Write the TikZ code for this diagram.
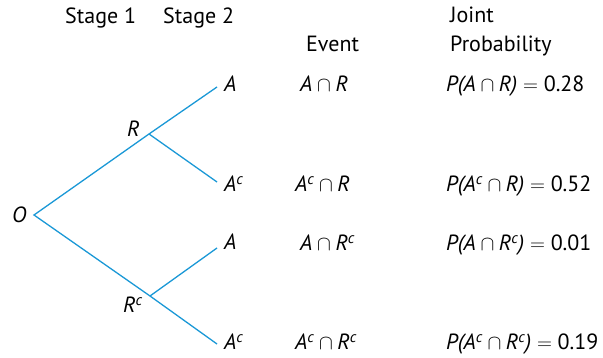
\documentclass[tikz,border=0pt]{standalone}
\usepackage{fontspec}
\setmainfont{PT Sans}
\definecolor{treeblue}{RGB}{26,152,214}
\newcommand{\cc}{\textsuperscript{c}}
\newcommand{\capp}{\ensuremath{{}\cap{}}}
\newcommand{\eqq}{\ensuremath{{}={}}}
\begin{document}
\begin{tikzpicture}[x=1pt,y=-1pt,
  branch/.style={draw=treeblue, line width=1.3pt},
  lbl/.style={anchor=base west, inner sep=0pt, font=\fontsize{22}{26}\selectfont},
  ilbl/.style={lbl, font=\fontsize{22}{26}\selectfont\itshape}]
\useasboundingbox (0,0) rectangle (603,358);
% tree points
\coordinate (O) at (34,215);
\coordinate (R) at (149,134);
\coordinate (Rc) at (150,296);
\coordinate (A1) at (217,87);
\coordinate (A2) at (217,182);
\coordinate (A3) at (217,248);
\coordinate (A4) at (217,344);
\draw[branch] (A1) -- (R) -- (O) -- (Rc) -- (A4);
\draw[branch] (R) -- (A2);
\draw[branch] (Rc) -- (A3);
% headings
\node[lbl] (s1) at (65,24) {Stage 1};
\node[lbl] (s2) at (163,24) {Stage 2};
\node[lbl] (ev) at (306,52) {Event};
\node[lbl] (jt) at (450,23) {Joint};
\node[lbl] (pr) at (450,52) {Probability};
% tree labels
\node[ilbl] (lO) at (12,223) {O};
\node[ilbl] (lR) at (127,137) {R};
\node[ilbl] (lRc) at (123,313) {R\cc};
\node[ilbl] (lA1) at (224,92) {A};
\node[ilbl] (lA2) at (224,192) {A\cc};
\node[ilbl] (lA3) at (224,250) {A};
\node[ilbl] (lA4) at (224,350) {A\cc};
% events
\node[ilbl] (e1) at (300,92) {A\capp R};
\node[ilbl] (e2) at (295,192) {A\cc\capp R};
\node[ilbl] (e3) at (300,251) {A\capp R\cc};
\node[ilbl] (e4) at (295,350) {A\cc\capp R\cc};
% probabilities
\node[ilbl] (p1) at (446,92) {P(A\capp R)\upshape\eqq 0.28};
\node[ilbl] (p2) at (446,192) {P(A\cc\capp R)\upshape\eqq 0.52};
\node[ilbl] (p3) at (446,251) {P(A\capp R\cc)\upshape\eqq 0.01};
\node[ilbl] (p4) at (446,350) {P(A\cc\capp R\cc)\upshape\eqq 0.19};
\end{tikzpicture}
\end{document}
